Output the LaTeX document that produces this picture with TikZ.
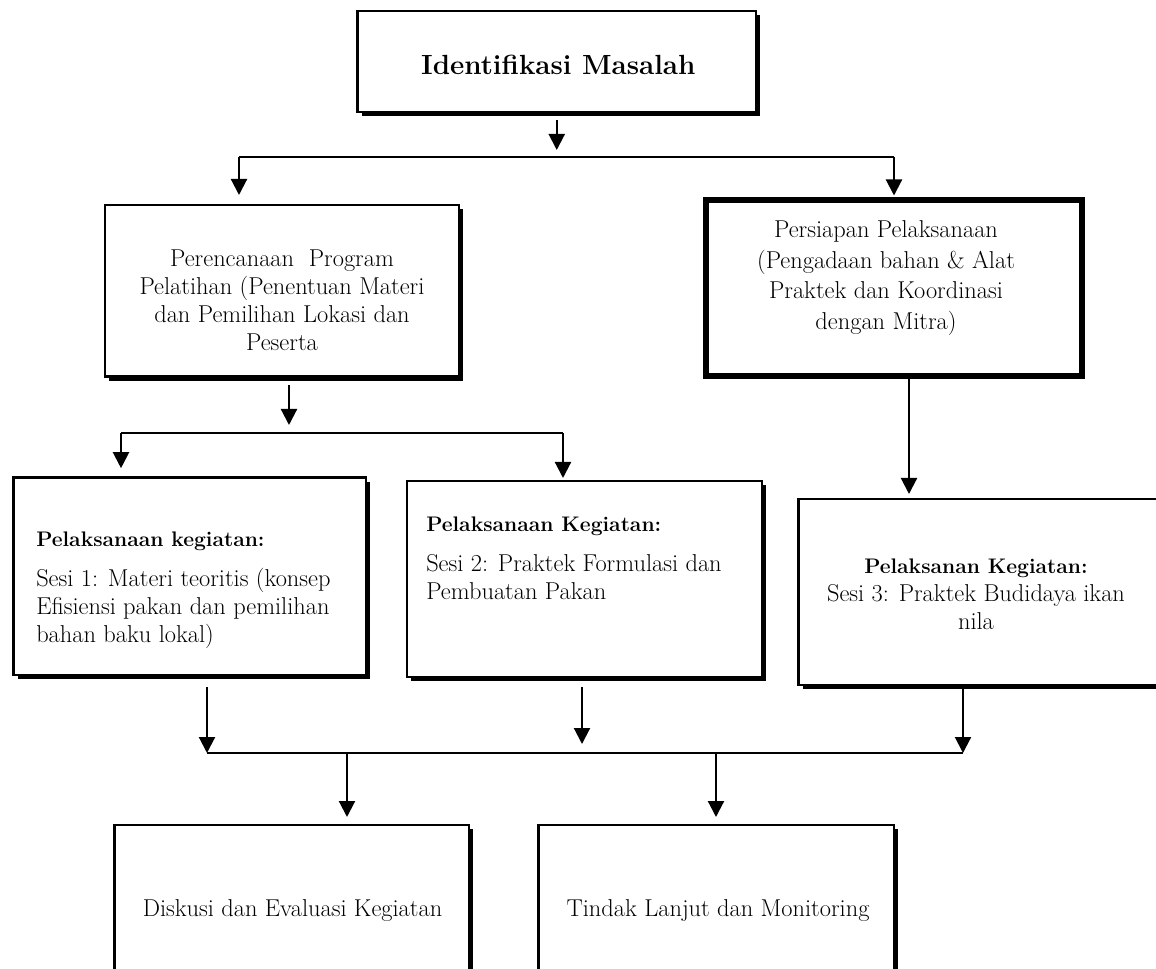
\documentclass[tikz,border=0pt]{standalone}
\usepackage{fontspec}
\usetikzlibrary{arrows.meta,shadows,calc}
\begin{document}
\begin{tikzpicture}[x=0.75pt,y=-0.75pt,
  sz/.style 2 args={minimum width=#1*0.75pt, minimum height=#2*0.75pt},
  box/.style={draw, line width=1.8pt, fill=white, inner sep=0pt, outer sep=0pt,
    drop shadow={shadow xshift=3.15pt, shadow yshift=-3.15pt, fill=black, opacity=1}},
  thickbox/.style={draw, line width=4.5pt, fill=white, inner sep=0pt, outer sep=0pt},
  txt/.style={inner sep=0pt, font=\fontsize{18.3}{21}\selectfont},
  arr/.style={line width=1.6pt, -{Triangle[length=12pt,width=12pt]}},
  bus/.style={line width=1pt}]
\useasboundingbox (0,0) rectangle (1156,969);
\clip (0,0) rectangle (1156,969);
\fill[white] (0,0) rectangle (1156,969);

% boxes
\node[box, sz={398.5}{101}] (top) at (556.75,61.5) {};
\node[box, sz={354}{171.5}] (plan) at (282,290.75) {};
\node[thickbox, sz={376}{176}] (prep) at (893.5,288.5) {};
\node[box, sz={352.9}{197.1}] (s1) at (189.75,576.25) {};
\node[box, sz={355.5}{196.2}] (s2) at (584.45,579.1) {};
\node[box, sz={361.7}{185.8}] (s3) at (979.15,591.9) {};
\node[box, sz={354.5}{175}] (d1) at (291.55,912.5) {};
\node[box, sz={355.5}{175}] (d2) at (716.05,912.5) {};

% texts
\node[txt, font=\fontsize{20.8}{24}\selectfont\bfseries] (toptxt) at (558.3,64.5) {Identifikasi Masalah};
\node[txt, align=center] (plantxt) at (282,300) {Perencanaan\ \ Program\\Pelatihan (Penentuan Materi\\dan Pemilihan Lokasi dan\\Peserta};
\node[txt, align=center, font=\fontsize{18.3}{23}\selectfont] (preptxt) at (886,278) {Persiapan Pelaksanaan\\(Pengadaan bahan \& Alat\\Praktek dan Koordinasi\\dengan Mitra)};
\node[txt, align=left, anchor=west] (s1txt) at (36,590) {{\fontsize{15.8}{21}\selectfont\bfseries Pelaksanaan kegiatan:}\\[9pt]Sesi 1: Materi teoritis (konsep\\Efisiensi pakan dan pemilihan\\bahan baku lokal)};
\node[txt, align=left, anchor=west] (s2txt) at (426,558.6) {{\fontsize{15.8}{21}\selectfont\bfseries Pelaksanaan Kegiatan:}\\[9pt]Sesi 2: Praktek Formulasi dan\\Pembuatan Pakan};
\node[txt, align=center] (s3txt) at (976,594) {{\fontsize{15.8}{21}\selectfont\bfseries Pelaksanan Kegiatan:}\\Sesi 3: Praktek Budidaya ikan\\nila};
\node[txt] (d1txt) at (292.5,910.3) {Diskusi dan Evaluasi Kegiatan};
\node[txt] (d2txt) at (718,910.3) {Tindak Lanjut dan Monitoring};

% junctions
\coordinate (j1) at (239,157);
\coordinate (j2) at (894,157);
\coordinate (j3) at (121,433);
\coordinate (j4) at (563,433);
\coordinate (j5) at (207,753);
\coordinate (j6) at (963,753);
\coordinate (j7) at (582,753);
\coordinate (j8) at (347,753);
\coordinate (j9) at (716,753);
\coordinate (p0) at ($(plan.south)+(7,0)$);
\coordinate (p1) at ($(prep.south)+(15.5,0)$);

% connectors
\draw[arr] ($(top.south)+(0,8)$) -- ($(top.south)+(0,38)$);
\draw[bus] (j1) -- (j2);
\draw[arr] (j1) -- ($(j1 |- plan.north)+(0,-10)$);
\draw[arr] (j2) -- ($(j2 |- prep.north)+(0,-5)$);

\draw[arr] ($(p0)+(0,8.5)$) -- ($(p0)+(0,48.5)$);
\draw[bus] (j3) -- (j4);
\draw[arr] (j3) -- ($(j3 |- s1.north)+(0,-9.5)$);
\draw[arr] (j4) -- ($(j4 |- s2.north)+(0,-3)$);

\draw[arr] ($(p1)+(0,2)$) -- ($(p1 |- s3.north)+(0,-5)$);

\draw[bus] (j5) -- (j6);
\draw[arr] ($(j5 |- s1.south)+(0,12)$) -- (j5);
\draw[arr] ($(j7 |- s2.south)+(0,10)$) -- ($(j7)+(0,-9)$);
\draw[arr] ($(j6 |- s3.south)+(0,4)$) -- (j6);
\draw[arr] (j8) -- ($(j8 |- d1.north)+(0,-8)$);
\draw[arr] (j9) -- ($(j9 |- d2.north)+(0,-8)$);
\end{tikzpicture}
\end{document}
